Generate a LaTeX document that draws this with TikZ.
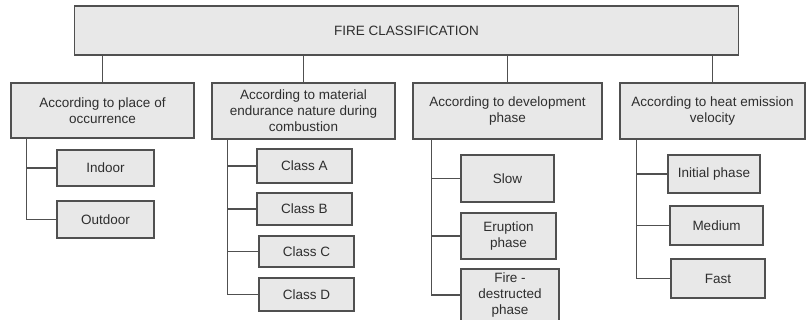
\documentclass[tikz,border=0pt]{standalone}
\usepackage{fontspec}
\setmainfont{Liberation Sans}
\usepackage{xcolor}
\usepackage{tikz}
\usetikzlibrary{positioning}

\definecolor{boxfill}{HTML}{E8E8E8}
\definecolor{boxline}{HTML}{505050}
\definecolor{textgray}{HTML}{2E2E2E}

\begin{document}
\begin{tikzpicture}[
        x=1pt,
        y=-1pt,
        box/.style={
            draw=boxline,
            line width=1.1pt,
            fill=boxfill,
            text=textgray,
            align=center,
            inner sep=1pt,
            font=\fontsize{13.5}{16}\selectfont
        },
        link/.style={draw=boxline, line width=1.1pt}
    ]
        \useasboundingbox (0,0) rectangle (806,320);

        % Root and the four ways of classifying.
        \node[box, minimum width=664pt, minimum height=49pt] (root) at (406.5,30.5) {FIRE CLASSIFICATION};
        \node[box, minimum width=183pt, minimum height=55pt] (place) at (102.5,110.5) {According to place of\\occurrence};
        \node[box, minimum width=183pt, minimum height=56pt] (material) at (303.5,111) {According to material\\endurance nature during\\combustion};
        \node[box, minimum width=189pt, minimum height=56pt] (devel) at (507.5,111) {According to development\\phase};
        \node[box, minimum width=185pt, minimum height=56pt] (heat) at (712.5,111) {According to heat emission\\velocity};

        % Leaves.
        \node[box, minimum width=97pt, minimum height=36pt] (indoor) at (105.5,168) {Indoor};
        \node[box, minimum width=97pt, minimum height=37pt] (outdoor) at (105.5,219.5) {Outdoor};
        \node[box, minimum width=95pt, minimum height=34pt] (classA) at (304.5,166) {Class A};
        \node[box, minimum width=95pt, minimum height=32pt] (classB) at (304.5,209) {Class B};
        \node[box, minimum width=95pt, minimum height=31pt] (classC) at (306.5,251.5) {Class C};
        \node[box, minimum width=95pt, minimum height=33pt] (classD) at (306.5,294.5) {Class D};
        \node[box, minimum width=93pt, minimum height=47pt] (slow) at (507.5,178.5) {Slow};
        \node[box, minimum width=95pt, minimum height=46pt] (erupt) at (508.5,236) {Eruption\\phase};
        \node[box, minimum width=98pt, minimum height=52pt] (destr) at (510,295) {Fire -\\destructed\\phase};
        \node[box, minimum width=92pt, minimum height=38pt] (initial) at (714,174) {Initial phase};
        \node[box, minimum width=93pt, minimum height=39pt] (medium) at (716.5,225.5) {Medium};
        \node[box, minimum width=94pt, minimum height=39pt] (fast) at (718,278.5) {Fast};

        % Root to the four groups.
        \foreach \grp in {place,material,devel,heat}
            \draw[link] (\grp.north) -- (\grp.north |- root.south);

        % Trunks down the left side of each group.
        \coordinate (trunkP) at ([xshift=16pt]place.south west);
        \coordinate (trunkM) at ([xshift=16pt]material.south west);
        \coordinate (trunkD) at ([xshift=19pt]devel.south west);
        \coordinate (trunkH) at ([xshift=17pt]heat.south west);

        \draw[link] (trunkP) |- (outdoor.west);
        \draw[link] (indoor.west) -- (indoor.west -| trunkP);

        \draw[link] (trunkM) |- (classD.west);
        \foreach \leaf in {classA,classB,classC}
            \draw[link] (\leaf.west) -- (\leaf.west -| trunkM);

        \draw[link] (trunkD) |- (destr.west);
        \foreach \leaf in {slow,erupt}
            \draw[link] (\leaf.west) -- (\leaf.west -| trunkD);

        \draw[link] (trunkH) |- (fast.west);
        \foreach \leaf in {initial,medium}
            \draw[link] (\leaf.west) -- (\leaf.west -| trunkH);

    \end{tikzpicture}
\end{document}
